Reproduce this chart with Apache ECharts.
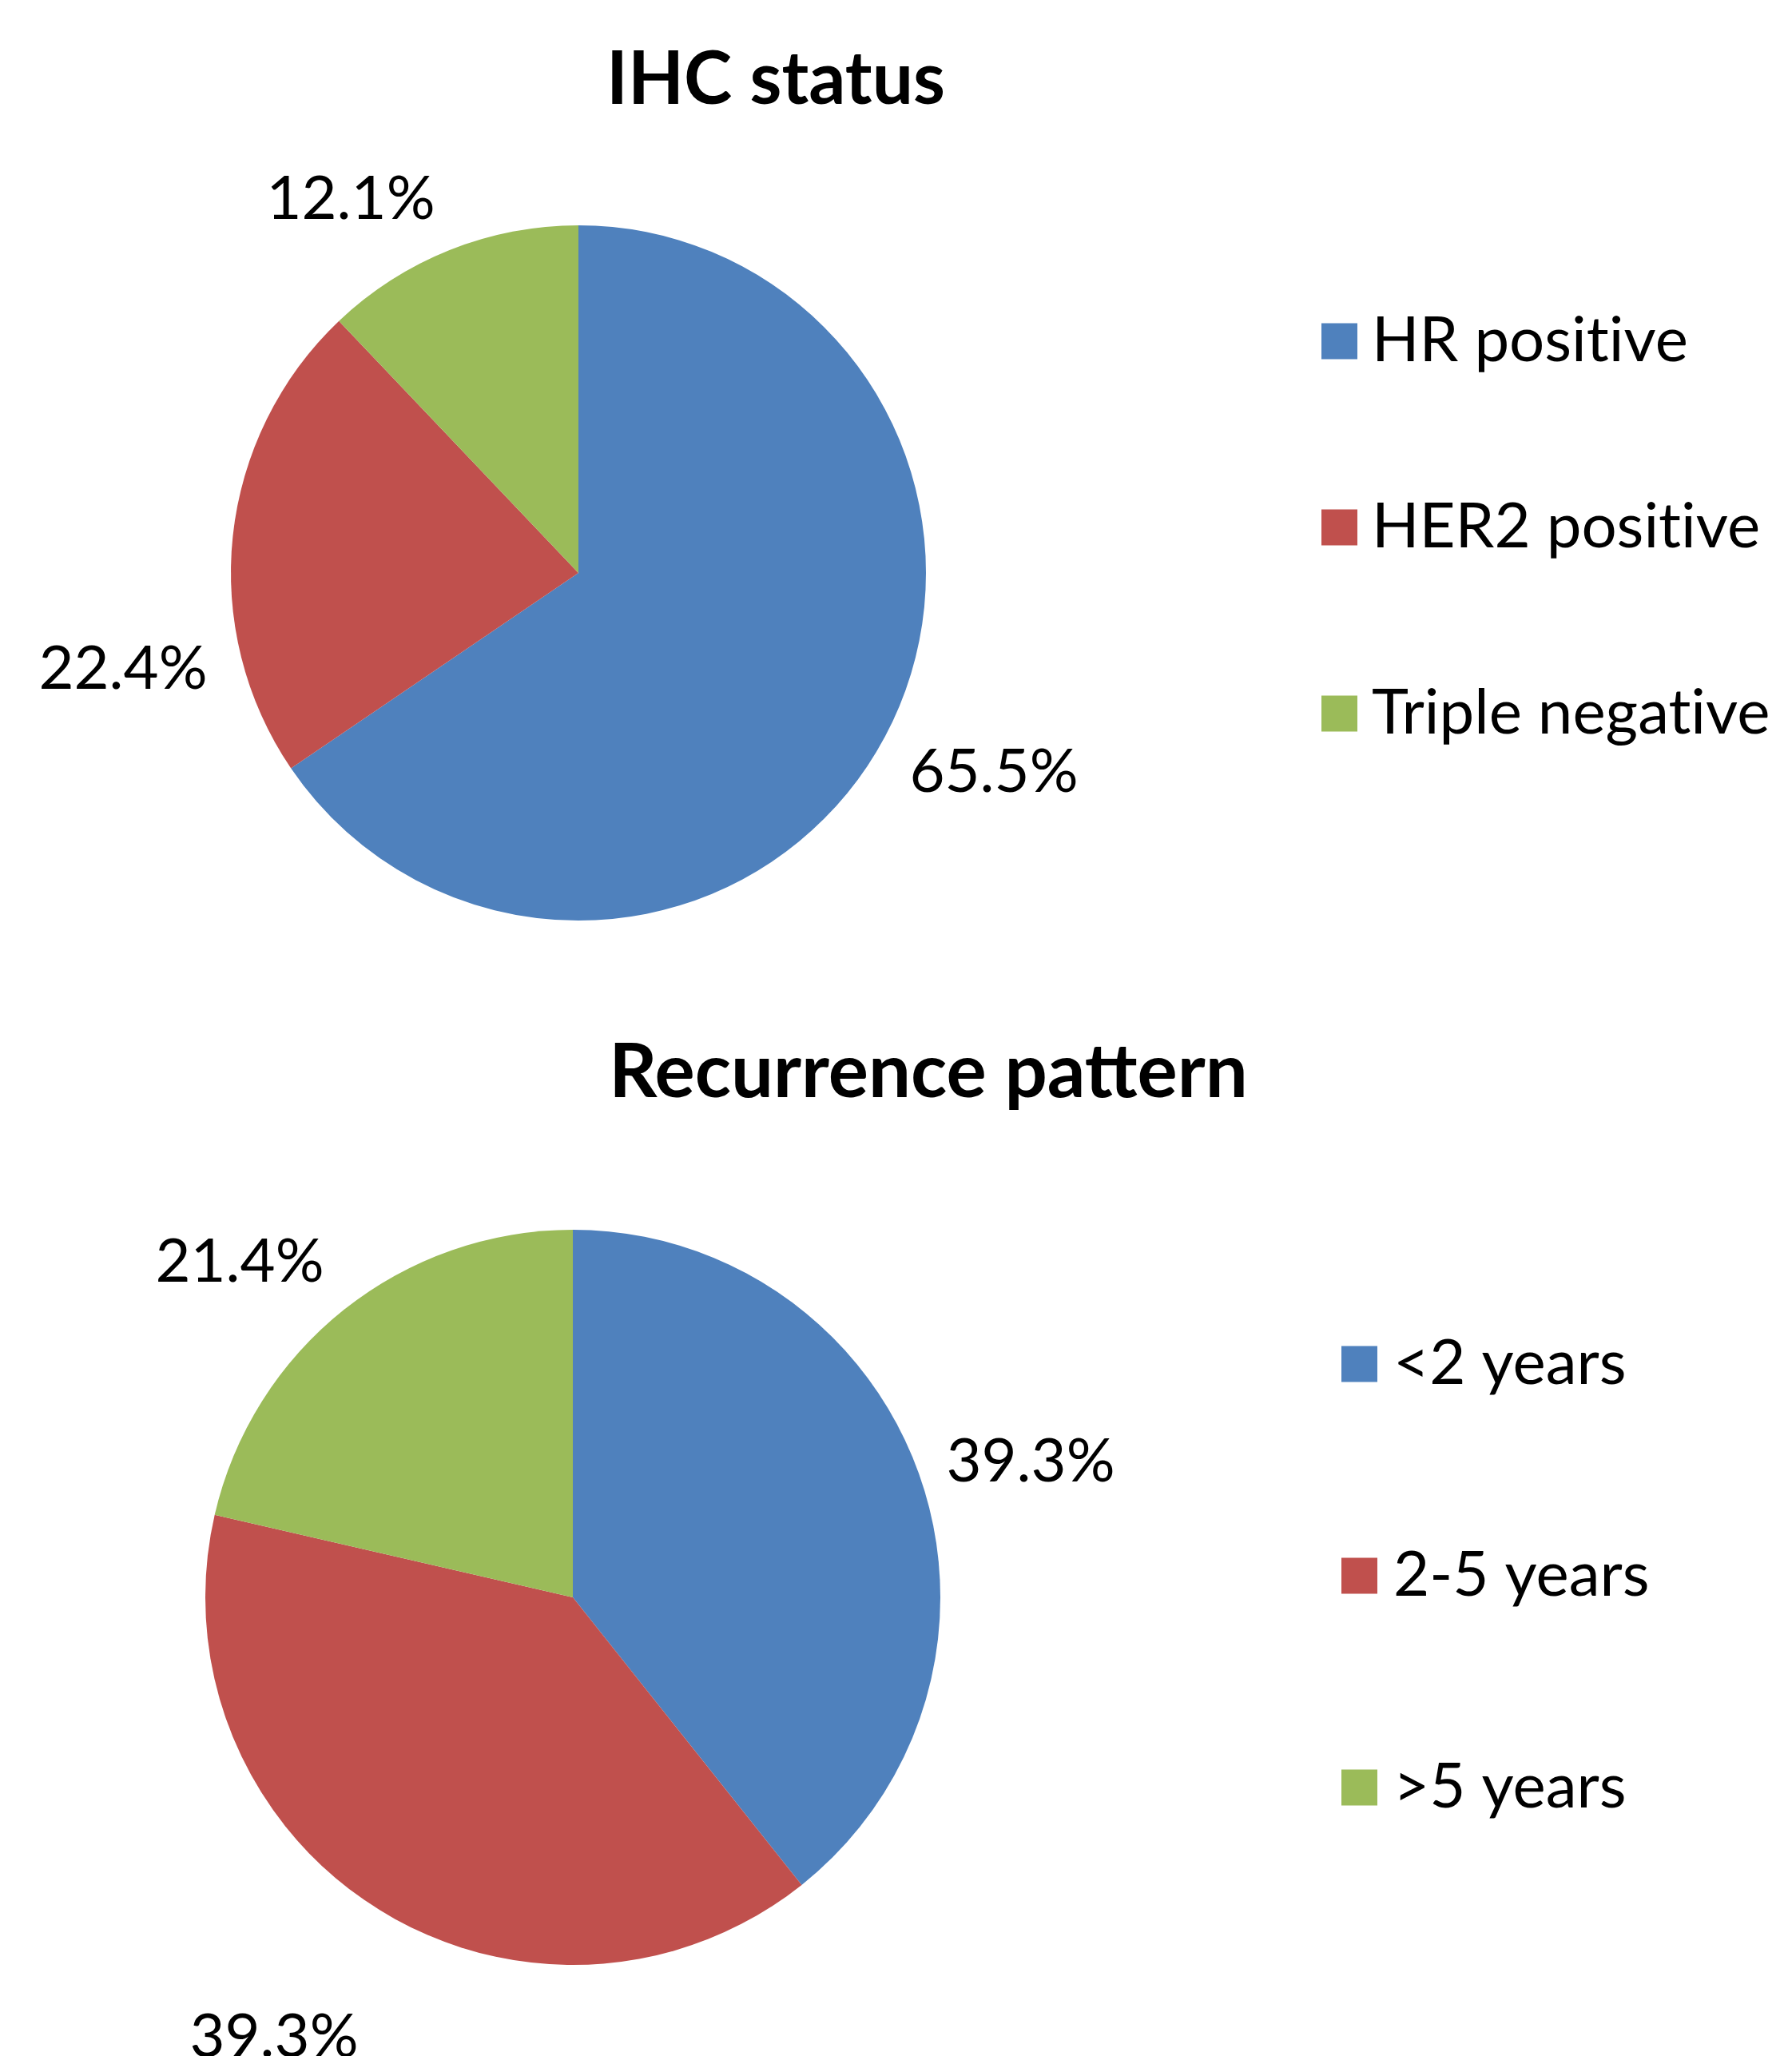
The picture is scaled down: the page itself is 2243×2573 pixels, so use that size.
<!DOCTYPE html>
<html>
<head>
<meta charset="UTF-8">
<title>IHC status / Recurrence pattern</title>
<script src="https://cdn.jsdelivr.net/npm/echarts@6/dist/echarts.min.js"></script>
<style>
	html, body { margin: 0; padding: 0; background: #fff; }
	#chart { width: 2243px; height: 2573px; }
</style>
</head>
<body>
<div id="chart"></div>
<script>
	// 数据
	var ihcNames = ['HR positive', 'HER2 positive', 'Triple negative'];
	var ihcValues = [65.5, 22.4, 12.1];
	var recNames = ['<2 years', '2-5 years', '>5 years'];
	var recValues = [39.3, 39.3, 21.4];

	var colors = ['#4F81BD', '#C0504D', '#9BBB59'];
	var font = 'Lato, "Liberation Sans", sans-serif';

	// pie geometry
	var topCenter = [724, 717];
	var topRadius = 435;
	var botCenter = [717, 1999];
	var botRadius = 460;

	// label anchors, offset from each pie centre
	var topLabelPos = [[520, 249], [-570, 120], [-285, -468]];
	var botLabelPos = [[573, -170], [-374, 550], [-417, -420]];

	function toData(names, values) {
		var out = [];
		for (var i = 0; i < names.length; i++) {
			out.push({ name: names[i], value: values[i] });
		}
		return out;
	}

	// Lato joins "ti" into a ligature, the original font does not
	function noLig(name) {
		return name.replace(/ti/g, 't\u200Ci');
	}

	function pieSeries(name, names, values, center, radius, labelPos) {
		return {
			name: name,
			type: 'pie',
			center: center,
			radius: radius,
			startAngle: 90,
			clockwise: true,
			avoidLabelOverlap: false,
			silent: true,
			itemStyle: { borderWidth: 0 },
			emphasis: { disabled: true },
			label: {
				show: true,
				position: 'outside',
				fontFamily: font,
				fontSize: 76,
				color: '#000',
				formatter: function (p) { return p.value.toFixed(1) + '%'; }
			},
			labelLine: { show: false },
			labelLayout: function (p) {
				var off = labelPos[p.dataIndex];
				return {
					x: center[0] + off[0],
					y: center[1] + off[1],
					align: 'center',
					verticalAlign: 'middle'
				};
			},
			data: toData(names, values)
		};
	}

	var myChart = echarts.init(document.getElementById('chart'));

	var option = {
		animation: false,
		color: colors,
		backgroundColor: '#fff',
		title: [{
			text: 'IHC status',
			left: 971,
			top: 55,
			padding: 0,
			textAlign: 'center',
			textVerticalAlign: 'top',
			textStyle: { fontFamily: font, fontSize: 91, fontWeight: 'bold', color: '#000' }
		}, {
			text: 'Recurrence pattern',
			left: 1162,
			top: 1296,
			padding: 0,
			textAlign: 'center',
			textVerticalAlign: 'top',
			textStyle: { fontFamily: font, fontSize: 94, fontWeight: 'bold', color: '#000' }
		}],
		legend: [{
			data: ihcNames,
			orient: 'vertical',
			left: 1654,
			top: 388,
			padding: 0,
			icon: 'rect',
			itemWidth: 45,
			itemHeight: 45,
			itemGap: 155,
			selectedMode: false,
			formatter: noLig,
			textStyle: { fontFamily: font, fontSize: 78, color: '#000', padding: [0, 0, 0, 13] }
		}, {
			data: recNames,
			orient: 'vertical',
			left: 1679,
			top: 1668,
			padding: 0,
			icon: 'rect',
			itemWidth: 45,
			itemHeight: 45,
			itemGap: 187,
			selectedMode: false,
			formatter: noLig,
			textStyle: { fontFamily: font, fontSize: 78, color: '#000', padding: [0, 0, 0, 15] }
		}],
		series: [
			pieSeries('IHC status', ihcNames, ihcValues, topCenter, topRadius, topLabelPos),
			pieSeries('Recurrence pattern', recNames, recValues, botCenter, botRadius, botLabelPos)
		]
	};

	myChart.setOption(option);
</script>
</body>
</html>
